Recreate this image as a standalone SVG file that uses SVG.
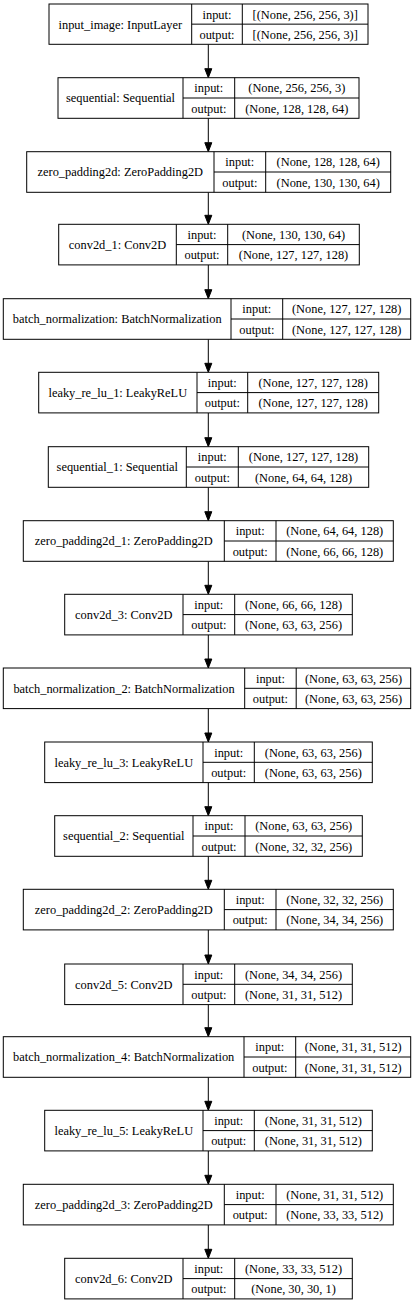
<svg xmlns="http://www.w3.org/2000/svg" width="417" height="1303" viewBox="0 0 417 1303">
<style>
.b{fill:#fff;stroke:#000;stroke-width:1}
.l{stroke:#000;stroke-width:1;fill:none}
text{font-family:"Liberation Serif","Times New Roman",serif;font-size:12.4px;fill:#000;text-anchor:middle}
.e{stroke:#000;stroke-width:1;fill:none}
.h{fill:#000;stroke:#000;stroke-width:1}
</style>
<rect width="417" height="1303" fill="#fff"/>
<g id="connectors">
<line class="e" x1="208.3" y1="44.3" x2="208.3" y2="68.7"/><polygon class="h" points="204.8,68.7 211.8,68.7 208.3,77.7"/>
<line class="e" x1="208.3" y1="118.3" x2="208.3" y2="142.7"/><polygon class="h" points="204.8,142.7 211.8,142.7 208.3,151.7"/>
<line class="e" x1="208.3" y1="192.3" x2="208.3" y2="215.3"/><polygon class="h" points="204.8,215.3 211.8,215.3 208.3,224.3"/>
<line class="e" x1="208.3" y1="264.9" x2="208.3" y2="289.7"/><polygon class="h" points="204.8,289.7 211.8,289.7 208.3,298.7"/>
<line class="e" x1="208.3" y1="339.3" x2="208.3" y2="363.3"/><polygon class="h" points="204.8,363.3 211.8,363.3 208.3,372.3"/>
<line class="e" x1="208.3" y1="412.9" x2="208.3" y2="437.7"/><polygon class="h" points="204.8,437.7 211.8,437.7 208.3,446.7"/>
<line class="e" x1="208.3" y1="487.3" x2="208.3" y2="511.7"/><polygon class="h" points="204.8,511.7 211.8,511.7 208.3,520.7"/>
<line class="e" x1="208.3" y1="561.3" x2="208.3" y2="585.3"/><polygon class="h" points="204.8,585.3 211.8,585.3 208.3,594.3"/>
<line class="e" x1="208.3" y1="634.9" x2="208.3" y2="659"/><polygon class="h" points="204.8,659 211.8,659 208.3,668"/>
<line class="e" x1="208.3" y1="708.6" x2="208.3" y2="733"/><polygon class="h" points="204.8,733 211.8,733 208.3,742"/>
<line class="e" x1="208.3" y1="782.6" x2="208.3" y2="806.7"/><polygon class="h" points="204.8,806.7 211.8,806.7 208.3,815.7"/>
<line class="e" x1="208.3" y1="856.3" x2="208.3" y2="880.3"/><polygon class="h" points="204.8,880.3 211.8,880.3 208.3,889.3"/>
<line class="e" x1="208.3" y1="929.9" x2="208.3" y2="955"/><polygon class="h" points="204.8,955 211.8,955 208.3,964"/>
<line class="e" x1="208.3" y1="1004.6" x2="208.3" y2="1027.7"/><polygon class="h" points="204.8,1027.7 211.8,1027.7 208.3,1036.7"/>
<line class="e" x1="208.3" y1="1077.3" x2="208.3" y2="1101.3"/><polygon class="h" points="204.8,1101.3 211.8,1101.3 208.3,1110.3"/>
<line class="e" x1="208.3" y1="1150.9" x2="208.3" y2="1175.3"/><polygon class="h" points="204.8,1175.3 211.8,1175.3 208.3,1184.3"/>
<line class="e" x1="208.3" y1="1224.9" x2="208.3" y2="1249.3"/><polygon class="h" points="204.8,1249.3 211.8,1249.3 208.3,1258.3"/>
</g>
<g id="input_image">
<rect class="b" x="49" y="4" width="319" height="40.3"/>
<line class="l" x1="191.7" y1="4" x2="191.7" y2="44.3"/><line class="l" x1="242.3" y1="4" x2="242.3" y2="44.3"/><line class="l" x1="191.7" y1="24.15" x2="368" y2="24.15"/>
<text x="120.3" y="28.6">input_image: InputLayer</text>
<text x="217" y="18.5">input:</text><text x="217" y="38.8">output:</text>
<text x="305.2" y="18.5">[(None, 256, 256, 3)]</text><text x="305.2" y="38.8">[(None, 256, 256, 3)]</text>
</g>
<g id="sequential">
<rect class="b" x="58" y="77.7" width="301" height="40.6"/>
<line class="l" x1="183" y1="77.7" x2="183" y2="118.3"/><line class="l" x1="234.7" y1="77.7" x2="234.7" y2="118.3"/><line class="l" x1="183" y1="98" x2="359" y2="98"/>
<text x="120.5" y="102.4">sequential: Sequential</text>
<text x="208.8" y="92.2">input:</text><text x="208.8" y="112.6">output:</text>
<text x="296.8" y="92.2">(None, 256, 256, 3)</text><text x="296.8" y="112.6">(None, 128, 128, 64)</text>
</g>
<g id="zero_padding2d">
<rect class="b" x="26.7" y="151.7" width="364" height="40.6"/>
<line class="l" x1="214" y1="151.7" x2="214" y2="192.3"/><line class="l" x1="265.7" y1="151.7" x2="265.7" y2="192.3"/><line class="l" x1="214" y1="172" x2="390.7" y2="172"/>
<text x="120.3" y="176.4">zero_padding2d: ZeroPadding2D</text>
<text x="239.8" y="166.2">input:</text><text x="239.8" y="186.6">output:</text>
<text x="328.2" y="166.2">(None, 128, 128, 64)</text><text x="328.2" y="186.6">(None, 130, 130, 64)</text>
</g>
<g id="conv2d_1">
<rect class="b" x="58.7" y="224.3" width="300.6" height="40.6"/>
<line class="l" x1="176.3" y1="224.3" x2="176.3" y2="264.9"/><line class="l" x1="227.7" y1="224.3" x2="227.7" y2="264.9"/><line class="l" x1="176.3" y1="244.6" x2="359.3" y2="244.6"/>
<text x="117.5" y="249">conv2d_1: Conv2D</text>
<text x="202" y="238.8">input:</text><text x="202" y="259.2">output:</text>
<text x="293.5" y="238.8">(None, 130, 130, 64)</text><text x="293.5" y="259.2">(None, 127, 127, 128)</text>
</g>
<g id="batch_normalization">
<rect class="b" x="3.3" y="298.7" width="407.4" height="40.6"/>
<line class="l" x1="231" y1="298.7" x2="231" y2="339.3"/><line class="l" x1="282.7" y1="298.7" x2="282.7" y2="339.3"/><line class="l" x1="231" y1="319" x2="410.7" y2="319"/>
<text x="117.2" y="323.4">batch_normalization: BatchNormalization</text>
<text x="256.8" y="313.2">input:</text><text x="256.8" y="333.6">output:</text>
<text x="346.7" y="313.2">(None, 127, 127, 128)</text><text x="346.7" y="333.6">(None, 127, 127, 128)</text>
</g>
<g id="leaky_re_lu_1">
<rect class="b" x="38.7" y="372.3" width="340" height="40.6"/>
<line class="l" x1="197" y1="372.3" x2="197" y2="412.9"/><line class="l" x1="247.7" y1="372.3" x2="247.7" y2="412.9"/><line class="l" x1="197" y1="392.6" x2="378.7" y2="392.6"/>
<text x="117.8" y="397">leaky_re_lu_1: LeakyReLU</text>
<text x="222.3" y="386.8">input:</text><text x="222.3" y="407.2">output:</text>
<text x="313.2" y="386.8">(None, 127, 127, 128)</text><text x="313.2" y="407.2">(None, 127, 127, 128)</text>
</g>
<g id="sequential_1">
<rect class="b" x="48.3" y="446.7" width="320.4" height="40.6"/>
<line class="l" x1="186.3" y1="446.7" x2="186.3" y2="487.3"/><line class="l" x1="238.3" y1="446.7" x2="238.3" y2="487.3"/><line class="l" x1="186.3" y1="467" x2="368.7" y2="467"/>
<text x="117.3" y="471.4">sequential_1: Sequential</text>
<text x="212.3" y="461.2">input:</text><text x="212.3" y="481.6">output:</text>
<text x="303.5" y="461.2">(None, 127, 127, 128)</text><text x="303.5" y="481.6">(None, 64, 64, 128)</text>
</g>
<g id="zero_padding2d_1">
<rect class="b" x="23.3" y="520.7" width="370" height="40.6"/>
<line class="l" x1="224.3" y1="520.7" x2="224.3" y2="561.3"/><line class="l" x1="276" y1="520.7" x2="276" y2="561.3"/><line class="l" x1="224.3" y1="541" x2="393.3" y2="541"/>
<text x="123.8" y="545.4">zero_padding2d_1: ZeroPadding2D</text>
<text x="250.2" y="535.2">input:</text><text x="250.2" y="555.6">output:</text>
<text x="334.7" y="535.2">(None, 64, 64, 128)</text><text x="334.7" y="555.6">(None, 66, 66, 128)</text>
</g>
<g id="conv2d_3">
<rect class="b" x="64.7" y="594.3" width="287.6" height="40.6"/>
<line class="l" x1="183" y1="594.3" x2="183" y2="634.9"/><line class="l" x1="234.7" y1="594.3" x2="234.7" y2="634.9"/><line class="l" x1="183" y1="614.6" x2="352.3" y2="614.6"/>
<text x="123.8" y="619">conv2d_3: Conv2D</text>
<text x="208.8" y="608.8">input:</text><text x="208.8" y="629.2">output:</text>
<text x="293.5" y="608.8">(None, 66, 66, 128)</text><text x="293.5" y="629.2">(None, 63, 63, 256)</text>
</g>
<g id="batch_normalization_2">
<rect class="b" x="3.3" y="668" width="407.4" height="40.6"/>
<line class="l" x1="244.7" y1="668" x2="244.7" y2="708.6"/><line class="l" x1="296.2" y1="668" x2="296.2" y2="708.6"/><line class="l" x1="244.7" y1="688.3" x2="410.7" y2="688.3"/>
<text x="124" y="692.7">batch_normalization_2: BatchNormalization</text>
<text x="270.4" y="682.5">input:</text><text x="270.4" y="702.9">output:</text>
<text x="353.5" y="682.5">(None, 63, 63, 256)</text><text x="353.5" y="702.9">(None, 63, 63, 256)</text>
</g>
<g id="leaky_re_lu_3">
<rect class="b" x="44.7" y="742" width="327.6" height="40.6"/>
<line class="l" x1="203" y1="742" x2="203" y2="782.6"/><line class="l" x1="254.3" y1="742" x2="254.3" y2="782.6"/><line class="l" x1="203" y1="762.3" x2="372.3" y2="762.3"/>
<text x="123.8" y="766.7">leaky_re_lu_3: LeakyReLU</text>
<text x="228.7" y="756.5">input:</text><text x="228.7" y="776.9">output:</text>
<text x="313.3" y="756.5">(None, 63, 63, 256)</text><text x="313.3" y="776.9">(None, 63, 63, 256)</text>
</g>
<g id="sequential_2">
<rect class="b" x="54.7" y="815.7" width="307.6" height="40.6"/>
<line class="l" x1="193" y1="815.7" x2="193" y2="856.3"/><line class="l" x1="245" y1="815.7" x2="245" y2="856.3"/><line class="l" x1="193" y1="836" x2="362.3" y2="836"/>
<text x="123.8" y="840.4">sequential_2: Sequential</text>
<text x="219" y="830.2">input:</text><text x="219" y="850.6">output:</text>
<text x="303.7" y="830.2">(None, 63, 63, 256)</text><text x="303.7" y="850.6">(None, 32, 32, 256)</text>
</g>
<g id="zero_padding2d_2">
<rect class="b" x="23.3" y="889.3" width="370" height="40.6"/>
<line class="l" x1="224.3" y1="889.3" x2="224.3" y2="929.9"/><line class="l" x1="276" y1="889.3" x2="276" y2="929.9"/><line class="l" x1="224.3" y1="909.6" x2="393.3" y2="909.6"/>
<text x="123.8" y="914">zero_padding2d_2: ZeroPadding2D</text>
<text x="250.2" y="903.8">input:</text><text x="250.2" y="924.2">output:</text>
<text x="334.7" y="903.8">(None, 32, 32, 256)</text><text x="334.7" y="924.2">(None, 34, 34, 256)</text>
</g>
<g id="conv2d_5">
<rect class="b" x="64.7" y="964" width="287.6" height="40.6"/>
<line class="l" x1="183" y1="964" x2="183" y2="1004.6"/><line class="l" x1="234.7" y1="964" x2="234.7" y2="1004.6"/><line class="l" x1="183" y1="984.3" x2="352.3" y2="984.3"/>
<text x="123.8" y="988.7">conv2d_5: Conv2D</text>
<text x="208.8" y="978.5">input:</text><text x="208.8" y="998.9">output:</text>
<text x="293.5" y="978.5">(None, 34, 34, 256)</text><text x="293.5" y="998.9">(None, 31, 31, 512)</text>
</g>
<g id="batch_normalization_4">
<rect class="b" x="3.3" y="1036.7" width="407.4" height="40.6"/>
<line class="l" x1="244" y1="1036.7" x2="244" y2="1077.3"/><line class="l" x1="295.7" y1="1036.7" x2="295.7" y2="1077.3"/><line class="l" x1="244" y1="1057" x2="410.7" y2="1057"/>
<text x="123.7" y="1061.4">batch_normalization_4: BatchNormalization</text>
<text x="269.8" y="1051.2">input:</text><text x="269.8" y="1071.6">output:</text>
<text x="353.2" y="1051.2">(None, 31, 31, 512)</text><text x="353.2" y="1071.6">(None, 31, 31, 512)</text>
</g>
<g id="leaky_re_lu_5">
<rect class="b" x="44.7" y="1110.3" width="327.6" height="40.6"/>
<line class="l" x1="203" y1="1110.3" x2="203" y2="1150.9"/><line class="l" x1="254.3" y1="1110.3" x2="254.3" y2="1150.9"/><line class="l" x1="203" y1="1130.6" x2="372.3" y2="1130.6"/>
<text x="123.8" y="1135">leaky_re_lu_5: LeakyReLU</text>
<text x="228.7" y="1124.8">input:</text><text x="228.7" y="1145.2">output:</text>
<text x="313.3" y="1124.8">(None, 31, 31, 512)</text><text x="313.3" y="1145.2">(None, 31, 31, 512)</text>
</g>
<g id="zero_padding2d_3">
<rect class="b" x="23.3" y="1184.3" width="370" height="40.6"/>
<line class="l" x1="224.3" y1="1184.3" x2="224.3" y2="1224.9"/><line class="l" x1="276" y1="1184.3" x2="276" y2="1224.9"/><line class="l" x1="224.3" y1="1204.6" x2="393.3" y2="1204.6"/>
<text x="123.8" y="1209">zero_padding2d_3: ZeroPadding2D</text>
<text x="250.2" y="1198.8">input:</text><text x="250.2" y="1219.2">output:</text>
<text x="334.7" y="1198.8">(None, 31, 31, 512)</text><text x="334.7" y="1219.2">(None, 33, 33, 512)</text>
</g>
<g id="conv2d_6">
<rect class="b" x="64.7" y="1258.3" width="287.6" height="40.6"/>
<line class="l" x1="183" y1="1258.3" x2="183" y2="1298.9"/><line class="l" x1="234.7" y1="1258.3" x2="234.7" y2="1298.9"/><line class="l" x1="183" y1="1278.6" x2="352.3" y2="1278.6"/>
<text x="123.8" y="1283">conv2d_6: Conv2D</text>
<text x="208.8" y="1272.8">input:</text><text x="208.8" y="1293.2">output:</text>
<text x="293.5" y="1272.8">(None, 33, 33, 512)</text><text x="293.5" y="1293.2">(None, 30, 30, 1)</text>
</g>
</svg>
